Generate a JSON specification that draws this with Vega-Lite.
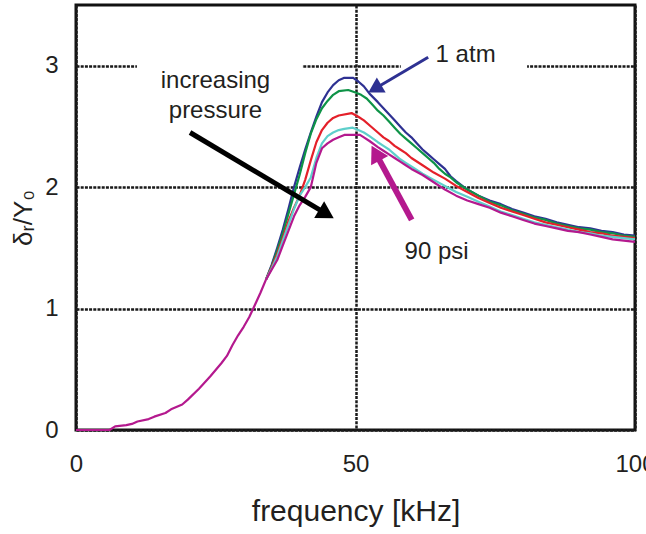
{
  "$schema": "https://vega.github.io/schema/vega-lite/v6.json",
  "width": 559,
  "height": 425,
  "autosize": {"type": "none"},
  "padding": {"left": 76, "top": 5, "right": 11, "bottom": 104},
  "background": "#ffffff",
  "config": {
    "view": {"stroke": "#111111", "strokeWidth": 3},
    "font": "Liberation Sans",
    "axis": {
      "domain": false,
      "ticks": false,
      "grid": true,
      "gridColor": "#1a1a1a",
      "gridDash": [3, 1.2],
      "gridWidth": 2.5,
      "gridOpacity": 1,
      "labelFont": "Liberation Sans",
      "labelFontSize": 24,
      "labelColor": "#231F20",
      "titleFont": "Liberation Sans",
      "titleFontWeight": "normal",
      "titleColor": "#231F20"
    }
  },
  "datasets": {
    "curves": [
      {"s":"1 atm","f":34,"y":1.24},{"s":"1 atm","f":35,"y":1.36},{"s":"1 atm","f":36,"y":1.5},{"s":"1 atm","f":37,"y":1.65},{"s":"1 atm","f":38,"y":1.82},{"s":"1 atm","f":39,"y":2.0},{"s":"1 atm","f":40,"y":2.16},{"s":"1 atm","f":41,"y":2.31},{"s":"1 atm","f":42,"y":2.45},{"s":"1 atm","f":43,"y":2.58},{"s":"1 atm","f":44,"y":2.7},{"s":"1 atm","f":45,"y":2.78},{"s":"1 atm","f":46,"y":2.84},{"s":"1 atm","f":47,"y":2.88},{"s":"1 atm","f":48,"y":2.9},{"s":"1 atm","f":49.6,"y":2.9},{"s":"1 atm","f":50.5,"y":2.87},{"s":"1 atm","f":51.5,"y":2.83},{"s":"1 atm","f":52.5,"y":2.77},{"s":"1 atm","f":54,"y":2.7},{"s":"1 atm","f":55,"y":2.65},{"s":"1 atm","f":56,"y":2.6},{"s":"1 atm","f":57,"y":2.55},{"s":"1 atm","f":58,"y":2.5},{"s":"1 atm","f":59,"y":2.45},{"s":"1 atm","f":60,"y":2.41},{"s":"1 atm","f":61,"y":2.36},{"s":"1 atm","f":62,"y":2.31},{"s":"1 atm","f":63,"y":2.27},{"s":"1 atm","f":64,"y":2.23},{"s":"1 atm","f":65,"y":2.19},{"s":"1 atm","f":66,"y":2.15},{"s":"1 atm","f":67,"y":2.09},{"s":"1 atm","f":68,"y":2.05},{"s":"1 atm","f":70,"y":1.98},{"s":"1 atm","f":72,"y":1.93},{"s":"1 atm","f":74,"y":1.89},{"s":"1 atm","f":76,"y":1.86},{"s":"1 atm","f":78,"y":1.82},{"s":"1 atm","f":80,"y":1.79},{"s":"1 atm","f":82,"y":1.76},{"s":"1 atm","f":84,"y":1.74},{"s":"1 atm","f":86,"y":1.71},{"s":"1 atm","f":88,"y":1.69},{"s":"1 atm","f":90,"y":1.67},{"s":"1 atm","f":92,"y":1.66},{"s":"1 atm","f":94,"y":1.64},{"s":"1 atm","f":96,"y":1.63},{"s":"1 atm","f":98,"y":1.61},{"s":"1 atm","f":100,"y":1.6},
      {"s":"p2","f":34,"y":1.24},{"s":"p2","f":35,"y":1.35},{"s":"p2","f":36,"y":1.48},{"s":"p2","f":37,"y":1.62},{"s":"p2","f":38,"y":1.78},{"s":"p2","f":39,"y":1.94},{"s":"p2","f":40,"y":2.1},{"s":"p2","f":41,"y":2.28},{"s":"p2","f":42,"y":2.44},{"s":"p2","f":43,"y":2.56},{"s":"p2","f":44,"y":2.65},{"s":"p2","f":45,"y":2.71},{"s":"p2","f":46,"y":2.76},{"s":"p2","f":47,"y":2.79},{"s":"p2","f":48.7,"y":2.8},{"s":"p2","f":50,"y":2.78},{"s":"p2","f":51,"y":2.76},{"s":"p2","f":52,"y":2.73},{"s":"p2","f":53,"y":2.68},{"s":"p2","f":54,"y":2.63},{"s":"p2","f":55,"y":2.59},{"s":"p2","f":56,"y":2.54},{"s":"p2","f":57,"y":2.49},{"s":"p2","f":58,"y":2.44},{"s":"p2","f":59,"y":2.4},{"s":"p2","f":60,"y":2.36},{"s":"p2","f":61,"y":2.32},{"s":"p2","f":62,"y":2.28},{"s":"p2","f":63,"y":2.24},{"s":"p2","f":64,"y":2.2},{"s":"p2","f":65,"y":2.15},{"s":"p2","f":66,"y":2.11},{"s":"p2","f":67,"y":2.08},{"s":"p2","f":68,"y":2.04},{"s":"p2","f":70,"y":1.98},{"s":"p2","f":72,"y":1.93},{"s":"p2","f":74,"y":1.88},{"s":"p2","f":76,"y":1.85},{"s":"p2","f":78,"y":1.81},{"s":"p2","f":80,"y":1.78},{"s":"p2","f":82,"y":1.75},{"s":"p2","f":84,"y":1.73},{"s":"p2","f":86,"y":1.7},{"s":"p2","f":88,"y":1.68},{"s":"p2","f":90,"y":1.66},{"s":"p2","f":92,"y":1.65},{"s":"p2","f":94,"y":1.63},{"s":"p2","f":96,"y":1.62},{"s":"p2","f":98,"y":1.6},{"s":"p2","f":100,"y":1.59},
      {"s":"p3","f":34,"y":1.24},{"s":"p3","f":35,"y":1.34},{"s":"p3","f":36,"y":1.45},{"s":"p3","f":37,"y":1.58},{"s":"p3","f":38,"y":1.72},{"s":"p3","f":39,"y":1.83},{"s":"p3","f":40,"y":1.93},{"s":"p3","f":41,"y":2.06},{"s":"p3","f":42,"y":2.22},{"s":"p3","f":43,"y":2.37},{"s":"p3","f":44,"y":2.47},{"s":"p3","f":45,"y":2.53},{"s":"p3","f":46,"y":2.57},{"s":"p3","f":47,"y":2.59},{"s":"p3","f":49.3,"y":2.61},{"s":"p3","f":50.5,"y":2.58},{"s":"p3","f":51.5,"y":2.55},{"s":"p3","f":52.5,"y":2.51},{"s":"p3","f":54,"y":2.45},{"s":"p3","f":55,"y":2.41},{"s":"p3","f":56,"y":2.38},{"s":"p3","f":57,"y":2.34},{"s":"p3","f":58,"y":2.31},{"s":"p3","f":59,"y":2.28},{"s":"p3","f":60,"y":2.24},{"s":"p3","f":62,"y":2.18},{"s":"p3","f":64,"y":2.12},{"s":"p3","f":66,"y":2.07},{"s":"p3","f":68,"y":2.01},{"s":"p3","f":70,"y":1.96},{"s":"p3","f":72,"y":1.91},{"s":"p3","f":74,"y":1.87},{"s":"p3","f":76,"y":1.83},{"s":"p3","f":78,"y":1.8},{"s":"p3","f":80,"y":1.77},{"s":"p3","f":82,"y":1.74},{"s":"p3","f":84,"y":1.71},{"s":"p3","f":86,"y":1.69},{"s":"p3","f":88,"y":1.67},{"s":"p3","f":90,"y":1.65},{"s":"p3","f":92,"y":1.63},{"s":"p3","f":94,"y":1.62},{"s":"p3","f":96,"y":1.6},{"s":"p3","f":98,"y":1.59},{"s":"p3","f":100,"y":1.58},
      {"s":"p4","f":34,"y":1.24},{"s":"p4","f":35,"y":1.33},{"s":"p4","f":36,"y":1.43},{"s":"p4","f":37,"y":1.56},{"s":"p4","f":38,"y":1.69},{"s":"p4","f":39,"y":1.82},{"s":"p4","f":40,"y":1.93},{"s":"p4","f":41,"y":2.0},{"s":"p4","f":42,"y":2.08},{"s":"p4","f":43,"y":2.24},{"s":"p4","f":44,"y":2.36},{"s":"p4","f":45,"y":2.42},{"s":"p4","f":46,"y":2.45},{"s":"p4","f":47,"y":2.47},{"s":"p4","f":48,"y":2.48},{"s":"p4","f":49.5,"y":2.49},{"s":"p4","f":50.5,"y":2.47},{"s":"p4","f":51.5,"y":2.45},{"s":"p4","f":52.5,"y":2.42},{"s":"p4","f":54,"y":2.37},{"s":"p4","f":55,"y":2.34},{"s":"p4","f":56,"y":2.31},{"s":"p4","f":57,"y":2.27},{"s":"p4","f":58,"y":2.23},{"s":"p4","f":59,"y":2.2},{"s":"p4","f":60,"y":2.17},{"s":"p4","f":62,"y":2.11},{"s":"p4","f":64,"y":2.06},{"s":"p4","f":66,"y":2.01},{"s":"p4","f":68,"y":1.96},{"s":"p4","f":70,"y":1.92},{"s":"p4","f":72,"y":1.88},{"s":"p4","f":74,"y":1.84},{"s":"p4","f":76,"y":1.8},{"s":"p4","f":78,"y":1.77},{"s":"p4","f":80,"y":1.74},{"s":"p4","f":82,"y":1.71},{"s":"p4","f":84,"y":1.69},{"s":"p4","f":86,"y":1.67},{"s":"p4","f":88,"y":1.65},{"s":"p4","f":90,"y":1.63},{"s":"p4","f":92,"y":1.62},{"s":"p4","f":94,"y":1.6},{"s":"p4","f":96,"y":1.59},{"s":"p4","f":98,"y":1.58},{"s":"p4","f":100,"y":1.57},
      {"s":"90 psi","f":0,"y":0},{"s":"90 psi","f":6,"y":0},{"s":"90 psi","f":7,"y":0.03},{"s":"90 psi","f":9,"y":0.04},{"s":"90 psi","f":10,"y":0.05},{"s":"90 psi","f":11,"y":0.07},{"s":"90 psi","f":13,"y":0.09},{"s":"90 psi","f":14,"y":0.11},{"s":"90 psi","f":16,"y":0.14},{"s":"90 psi","f":17,"y":0.17},{"s":"90 psi","f":19,"y":0.21},{"s":"90 psi","f":20,"y":0.25},{"s":"90 psi","f":22,"y":0.34},{"s":"90 psi","f":24,"y":0.44},{"s":"90 psi","f":26,"y":0.55},{"s":"90 psi","f":27,"y":0.61},{"s":"90 psi","f":28,"y":0.7},{"s":"90 psi","f":29,"y":0.78},{"s":"90 psi","f":30,"y":0.85},{"s":"90 psi","f":31,"y":0.93},{"s":"90 psi","f":32,"y":1.03},{"s":"90 psi","f":33,"y":1.13},{"s":"90 psi","f":34,"y":1.24},{"s":"90 psi","f":35,"y":1.32},{"s":"90 psi","f":36,"y":1.4},{"s":"90 psi","f":37,"y":1.52},{"s":"90 psi","f":38,"y":1.64},{"s":"90 psi","f":39,"y":1.76},{"s":"90 psi","f":40,"y":1.85},{"s":"90 psi","f":41,"y":1.92},{"s":"90 psi","f":42,"y":2.0},{"s":"90 psi","f":43,"y":2.2},{"s":"90 psi","f":44,"y":2.32},{"s":"90 psi","f":45,"y":2.36},{"s":"90 psi","f":46,"y":2.39},{"s":"90 psi","f":47,"y":2.41},{"s":"90 psi","f":48,"y":2.43},{"s":"90 psi","f":50.8,"y":2.43},{"s":"90 psi","f":51.5,"y":2.41},{"s":"90 psi","f":52.5,"y":2.38},{"s":"90 psi","f":54,"y":2.33},{"s":"90 psi","f":55,"y":2.3},{"s":"90 psi","f":56,"y":2.27},{"s":"90 psi","f":57,"y":2.24},{"s":"90 psi","f":58,"y":2.21},{"s":"90 psi","f":59,"y":2.18},{"s":"90 psi","f":60,"y":2.15},{"s":"90 psi","f":62,"y":2.1},{"s":"90 psi","f":64,"y":2.04},{"s":"90 psi","f":66,"y":1.98},{"s":"90 psi","f":68,"y":1.93},{"s":"90 psi","f":70,"y":1.89},{"s":"90 psi","f":72,"y":1.86},{"s":"90 psi","f":74,"y":1.83},{"s":"90 psi","f":76,"y":1.79},{"s":"90 psi","f":78,"y":1.76},{"s":"90 psi","f":80,"y":1.73},{"s":"90 psi","f":82,"y":1.7},{"s":"90 psi","f":84,"y":1.68},{"s":"90 psi","f":86,"y":1.66},{"s":"90 psi","f":88,"y":1.64},{"s":"90 psi","f":90,"y":1.63},{"s":"90 psi","f":92,"y":1.61},{"s":"90 psi","f":94,"y":1.59},{"s":"90 psi","f":96,"y":1.57},{"s":"90 psi","f":98,"y":1.56},{"s":"90 psi","f":100,"y":1.55}
    ],
    "labels": [
      {"label": "1 atm", "f": 69.7, "y": 3.03},
      {"label": "increasing", "f": 24.95, "y": 2.82},
      {"label": "pressure", "f": 24.95, "y": 2.57},
      {"label": "90 psi", "f": 64.5, "y": 1.41}
    ],
    "boxes": [
      {"f": 10.9, "f2": 40.5, "y": 2.9, "y2": 3.12},
      {"f": 58.1, "f2": 80.7, "y": 2.92, "y2": 3.12}
    ]
  },
  "encoding": {
    "x": {
      "field": "f", "type": "quantitative",
      "scale": {"domain": [0, 100], "nice": false, "zero": false},
      "axis": {"values": [0, 50, 100], "labelFlush": false, "labelPadding": 22, "title": "frequency [kHz]", "titleFontSize": 30, "titlePadding": 20}
    },
    "y": {
      "field": "y", "type": "quantitative",
      "scale": {"domain": [0, 3.5], "nice": false},
      "axis": {"values": [0, 1, 2, 3], "labelPadding": 18, "title": "δᵣ/Y₀", "titleFontSize": 26, "titlePadding": 8}
    }
  },
  "layer": [
    {
      "data": {"name": "boxes"},
      "mark": {"type": "rect", "color": "#ffffff", "opacity": 1},
      "encoding": {"x2": {"field": "f2"}, "y2": {"field": "y2"}}
    },
    {
      "data": {"name": "curves"},
      "mark": {"type": "line", "interpolate": "linear", "strokeJoin": "round"},
      "encoding": {
        "color": {"field": "s", "type": "nominal", "legend": null,
          "scale": {"domain": ["1 atm", "p2", "p3", "p4", "90 psi"], "range": ["#2E3192", "#0E9347", "#E4202A", "#5ECFCB", "#B4198E"]}},
        "strokeWidth": {"field": "s", "type": "nominal", "legend": null,
          "scale": {"domain": ["1 atm", "p2", "p3", "p4", "90 psi"], "range": [2.2, 2.2, 2.2, 2.2, 3]}}
      }
    },
    {
      "data": {"values": [{"f": 63.0, "y": 3.07, "f2": 53.45, "y2": 2.81}]},
      "mark": {"type": "rule", "color": "#2E3192", "strokeWidth": 3},
      "encoding": {"x2": {"field": "f2"}, "y2": {"field": "y2"}}
    },
    {
      "data": {"values": [{"f": 53.45, "y": 2.81}]},
      "mark": {"type": "point", "shape": "triangle-up", "filled": true, "opacity": 1, "size": 300, "angle": 239.4, "color": "#2E3192"},
      "encoding": {}
    },
    {
      "data": {"values": [{"f": 20.4, "y": 2.45, "f2": 44.8, "y2": 1.78}]},
      "mark": {"type": "rule", "color": "#000000", "strokeWidth": 5},
      "encoding": {"x2": {"field": "f2"}, "y2": {"field": "y2"}}
    },
    {
      "data": {"values": [{"f": 44.8, "y": 1.78}]},
      "mark": {"type": "point", "shape": "triangle-up", "filled": true, "opacity": 1, "size": 380, "angle": 120.7, "color": "#000000"},
      "encoding": {}
    },
    {
      "data": {"values": [{"f": 60.05, "y": 1.73, "f2": 53.6, "y2": 2.28}]},
      "mark": {"type": "rule", "color": "#B4198E", "strokeWidth": 6},
      "encoding": {"x2": {"field": "f2"}, "y2": {"field": "y2"}}
    },
    {
      "data": {"values": [{"f": 53.6, "y": 2.28}]},
      "mark": {"type": "point", "shape": "triangle-up", "filled": true, "opacity": 1, "size": 380, "angle": 331.4, "color": "#B4198E"},
      "encoding": {}
    },
    {
      "data": {"name": "labels"},
      "mark": {"type": "text", "font": "Liberation Sans", "fontSize": 24, "align": "center", "baseline": "alphabetic", "color": "#231F20"},
      "encoding": {"text": {"field": "label"}}
    }
  ]
}
